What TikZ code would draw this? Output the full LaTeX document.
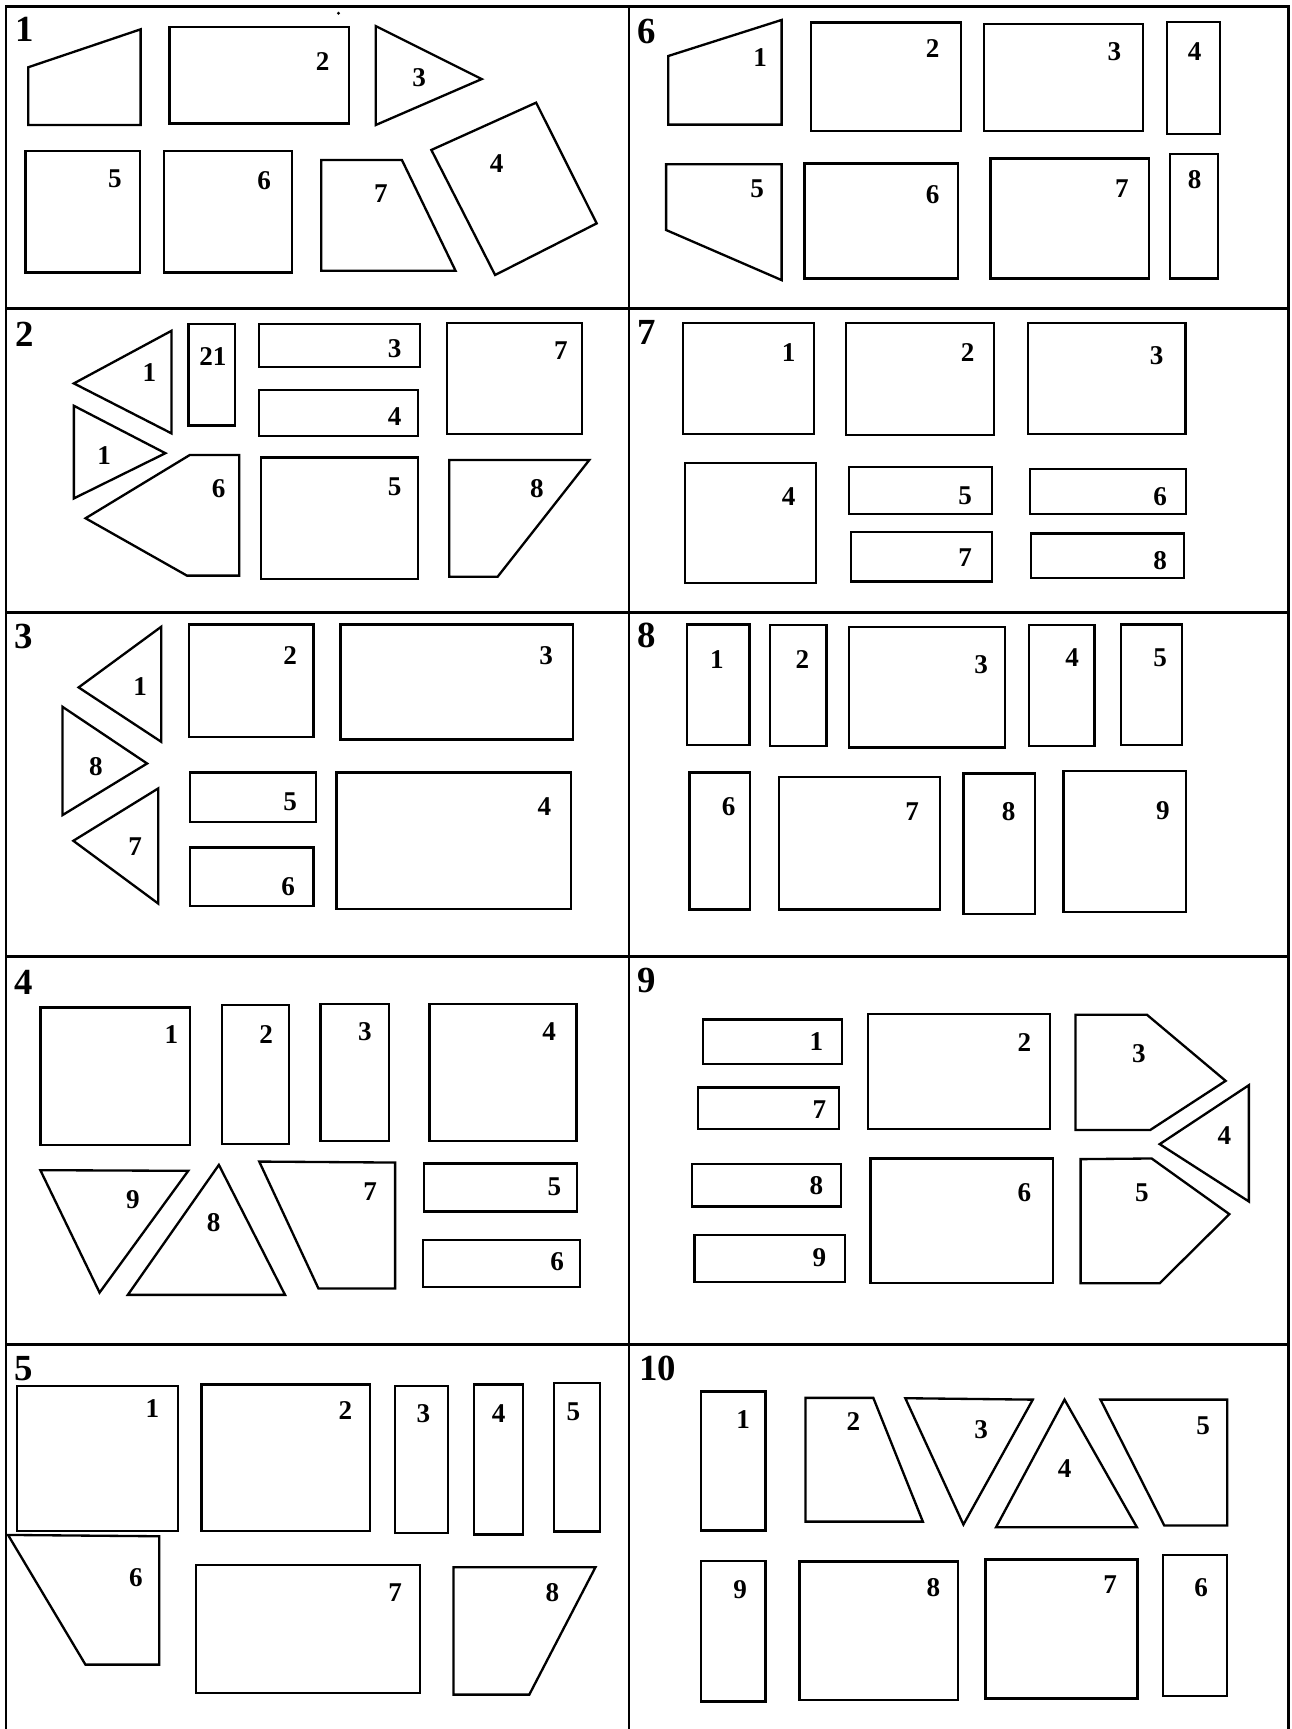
\documentclass[tikz,border=0pt]{standalone}
\usepackage{fontspec}
\setmainfont{Liberation Serif}
\tikzset{
  piece/.style={line width=1.2pt, line join=miter},
  frame/.style={line width=1.3pt},
  num/.style={font=\fontsize{14}{14}\selectfont\bfseries, inner sep=0pt},
  panelno/.style={font=\fontsize{19}{19}\selectfont\bfseries, inner sep=0pt},
}

\begin{document}
\begin{tikzpicture}[x=0.02cm, y=-0.02cm]
  \useasboundingbox (0,0) rectangle (1171,1568);
  \draw[frame] (5.5,1568) -- (5.5,6) -- (1168.5,6) -- (1168.5,1568);
  \draw[frame] (570.5,6) -- (570.5,1568);
  \foreach \y in {280,555.5,867.5,1219.5}
    \draw[frame] (5.5,\y) -- (1168.5,\y);

  \begin{scope}
    \node[panelno] (t1) at (22,27) {1};
    \fill (307,12) circle (1.5);
    \draw[piece] (25.6,61) -- (127.5,26.6) -- (127.5,113.4) -- (25.6,113.4) -- cycle;
    \draw[piece] (153.6,24.2) rectangle (316.2,111.9);
    \draw[piece] (340.7,23.6) -- (436.9,71.7) -- (340.7,113.4) -- cycle;
    \draw[piece] (486.2,93.1) -- (541.1,202.6) -- (449,249.4) -- (391.2,136) -- cycle;
    \draw[piece] (23,137) rectangle (127.2,247);
    \draw[piece] (148.8,137) rectangle (265,247);
    \draw[piece] (291.4,145.1) -- (364.5,145.1) -- (413.1,245.5) -- (291.4,245.5) -- cycle;
    \node[num] (a2) at (292.5,56) {2};
    \node[num] (a3) at (380.2,70) {3};
    \node[num] (a4) at (450.4,148) {4};
    \node[num] (a5) at (104.2,161.8) {5};
    \node[num] (a6) at (239.5,163.9) {6};
    \node[num] (a7) at (345.5,175.4) {7};
  \end{scope}

  \begin{scope}
    \node[panelno] (t6) at (586.9,28.7) {6};
    \draw[piece] (606,50.8) -- (708.8,18.1) -- (708.8,113) -- (606,113) -- cycle;
    \draw[piece] (735.6,20.3) rectangle (871.4,118.8);
    \draw[piece] (892.5,21.8) rectangle (1036.3,118.8);
    \draw[piece] (1058.2,20) rectangle (1106.5,121.8);
    \draw[piece] (604.1,149) -- (708.8,149) -- (708.8,254) -- (604.1,208.6) -- cycle;
    \draw[piece] (729.5,148.2) rectangle (868.7,252.5);
    \draw[piece] (898.3,143.6) rectangle (1042,252.5);
    \draw[piece] (1060.9,139.7) rectangle (1104.6,252.5);
    \node[num] (f1) at (689.3,52) {1};
    \node[num] (f2) at (845.7,43.8) {2};
    \node[num] (f3) at (1010.6,46.9) {3};
    \node[num] (f4) at (1083.5,46.9) {4};
    \node[num] (f5) at (686.6,171.4) {5};
    \node[num] (f6) at (845.7,176.3) {6};
    \node[num] (f7) at (1017.5,170.8) {7};
    \node[num] (f8) at (1083.5,163.3) {8};
  \end{scope}

  \begin{scope}
    \node[panelno] (t2) at (22,303) {2};
    \draw[piece] (67,347.7) -- (155.5,300) -- (155.5,393) -- cycle;
    \draw[piece] (67,368) -- (150,411) -- (67,452) -- cycle;
    \draw[piece] (171,293.9) rectangle (213.4,386);
    \draw[piece] (235,293.9) rectangle (381,333);
    \draw[piece] (235,353.7) rectangle (379,395.2);
    \draw[piece] (405.5,293) rectangle (527.8,393.6);
    \draw[piece] (172,412.7) -- (217,412.7) -- (217,522) -- (169.5,522) -- (77.6,470) -- cycle;
    \draw[piece] (236.8,414.8) rectangle (378.8,525);
    \draw[piece] (407.4,417.2) -- (534.4,417.2) -- (451.3,523) -- (407.4,523) -- cycle;
    \node[num] (b1) at (135.4,337.7) {1};
    \node[num] (b1x) at (94.4,413) {1};
    \node[num] (b21) at (193,323.5) {21};
    \node[num] (b3) at (358,316.6) {3};
    \node[num] (b4) at (358,378) {4};
    \node[num] (b7) at (508.7,318) {7};
    \node[num] (b6) at (198.4,443.5) {6};
    \node[num] (b5) at (358,441.4) {5};
    \node[num] (b8) at (486.8,443) {8};
  \end{scope}

  \begin{scope}
    \node[panelno] (t7) at (586.9,301.4) {7};
    \draw[piece] (619.5,293) rectangle (738.3,393.7);
    \draw[piece] (767.1,293) rectangle (901.3,394.5);
    \draw[piece] (932,293) rectangle (1075,393.7);
    \draw[piece] (621.4,420) rectangle (740.3,529);
    \draw[piece] (770.2,423.3) rectangle (899.4,466.2);
    \draw[piece] (934,425.4) rectangle (1075.8,466.2);
    \draw[piece] (771.7,482.5) rectangle (899.4,527.3);
    \draw[piece] (935,483.7) rectangle (1073.9,524.3);
    \node[num] (g1) at (715.3,319.6) {1};
    \node[num] (g2) at (877.5,319.6) {2};
    \node[num] (g3) at (1049,322.6) {3};
    \node[num] (g4) at (715.3,450.5) {4};
    \node[num] (g5) at (875.3,450) {5};
    \node[num] (g6) at (1052,450) {6};
    \node[num] (g7) at (875.3,506) {7};
    \node[num] (g8) at (1052,508) {8};
  \end{scope}

  \begin{scope}
    \node[panelno] (t3) at (21.9,577.5) {3};
    \draw[piece] (71.3,623.4) -- (146.2,568.4) -- (146.2,672.7) -- cycle;
    \draw[piece] (56.7,641) -- (133.4,692.4) -- (56.7,739.2) -- cycle;
    \draw[piece] (143.5,715) -- (66.5,762.5) -- (143.5,819.4) -- cycle;
    \draw[piece] (171.1,566.3) rectangle (284.4,668.2);
    \draw[piece] (308.9,566.3) rectangle (519.9,670.6);
    \draw[piece] (172.6,700.5) rectangle (286.3,745.3);
    \draw[piece] (172.6,768.5) rectangle (284.4,821.5);
    \draw[piece] (305.3,700.5) rectangle (518,824.2);
    \node[num] (c1) at (127.2,622.8) {1};
    \node[num] (c8) at (87,695.4) {8};
    \node[num] (c7) at (122.5,768) {7};
    \node[num] (c2) at (263.2,594.1) {2};
    \node[num] (c3) at (495.4,595) {3};
    \node[num] (c5) at (263.2,727) {5};
    \node[num] (c6) at (261.4,804.2) {6};
    \node[num] (c4) at (493.6,731.7) {4};
  \end{scope}

  \begin{scope}
    \node[panelno] (t8) at (586.9,575.9) {8};
    \draw[piece] (623.3,566.3) rectangle (679.7,675.7);
    \draw[piece] (698.1,566.9) rectangle (749.5,676.6);
    \draw[piece] (769.8,568.4) rectangle (911.7,677.8);
    \draw[piece] (933.2,566.9) rectangle (992.6,676.6);
    \draw[piece] (1016.8,566.3) rectangle (1072,675.7);
    \draw[piece] (625.2,700.5) rectangle (680.1,824.8);
    \draw[piece] (706.5,704.4) rectangle (852.2,824.8);
    \draw[piece] (873.7,701.4) rectangle (938.9,829);
    \draw[piece] (964.6,699.3) rectangle (1075.8,826.9);
    \node[num] (h1) at (650.1,598) {1};
    \node[num] (h2) at (727.6,598) {2};
    \node[num] (h3) at (889.8,603.2) {3};
    \node[num] (h4) at (972.3,596.2) {4};
    \node[num] (h5) at (1052,596.2) {5};
    \node[num] (h6) at (660.9,731.7) {6};
    \node[num] (h7) at (827.3,735.6) {7};
    \node[num] (h8) at (914.8,736.2) {8};
    \node[num] (h9) at (1054.7,735.6) {9};
  \end{scope}

  \begin{scope}
    \node[panelno] (t4) at (21.9,891) {4};
    \draw[piece] (36.6,913.7) rectangle (172.6,1038.3);
    \draw[piece] (201.1,911.6) rectangle (262.1,1037.6);
    \draw[piece] (290.7,910.7) rectangle (352.8,1034.6);
    \draw[piece] (389.4,910.7) rectangle (522.8,1034.6);
    \draw[piece] (36.6,1061.2) -- (170.7,1061.8) -- (90.3,1172.2) -- cycle;
    \draw[piece] (198.5,1056.4) -- (258.5,1174.3) -- (115.9,1174.3) -- cycle;
    \draw[piece] (235.1,1053.4) -- (358.3,1054.3) -- (358.3,1168.5) -- (288.8,1168.5) -- cycle;
    \draw[piece] (384.6,1055.2) rectangle (523.5,1098.7);
    \draw[piece] (383.9,1124.7) rectangle (525.7,1167.1);
    \node[num] (d1) at (155.4,937.9) {1};
    \node[num] (d2) at (241.3,937.9) {2};
    \node[num] (d3) at (330.9,935.4) {3};
    \node[num] (d4) at (498,935.4) {4};
    \node[num] (d9) at (120.6,1087.5) {9};
    \node[num] (d8) at (193.8,1108.6) {8};
    \node[num] (d7) at (335.6,1081) {7};
    \node[num] (d5) at (502.7,1076.5) {5};
    \node[num] (d6) at (505.3,1144.1) {6};
  \end{scope}

  \begin{scope}
    \node[panelno] (t9) at (586.9,889.5) {9};
    \draw[piece] (637.5,924.5) rectangle (763.3,965.1);
    \draw[piece] (633.3,986.2) rectangle (761,1024);
    \draw[piece] (627.5,1055.8) rectangle (762.5,1094.2);
    \draw[piece] (629.8,1120.2) rectangle (766.3,1162.5);
    \draw[piece] (787,919.7) rectangle (952.3,1024);
    \draw[piece] (789.4,1050.6) rectangle (955,1163.7);
    \draw[piece] (975.4,920.3) -- (1040.2,920.3) -- (1111.5,980.2) -- (1043.2,1024.7) -- (975.4,1024.7) -- cycle;
    \draw[piece] (1051.7,1037.6) -- (1132.6,984.1) -- (1132.6,1089.6) -- cycle;
    \draw[piece] (980,1051.2) -- (1044.4,1050.6) -- (1114.9,1101.1) -- (1051.7,1163.7) -- (980,1163.7) -- cycle;
    \node[num] (k1) at (740.3,944.5) {1};
    \node[num] (k7) at (743,1005.9) {7};
    \node[num] (k8) at (740.3,1075.5) {8};
    \node[num] (k9) at (743,1140.5) {9};
    \node[num] (k2) at (928.9,945.4) {2};
    \node[num] (k6) at (928.9,1081.5) {6};
    \node[num] (k3) at (1032.9,955.1) {3};
    \node[num] (k4) at (1110.3,1030.1) {4};
    \node[num] (k5) at (1035.6,1081.5) {5};
  \end{scope}

  \begin{scope}
    \node[panelno] (t5) at (21.9,1241.4) {5};
    \draw[piece] (15.4,1257.1) rectangle (161.6,1388.7);
    \draw[piece] (182.8,1255.6) rectangle (335.3,1388.7);
    \draw[piece] (358.3,1257.1) rectangle (406.2,1390.5);
    \draw[piece] (429.6,1255.6) rectangle (474.2,1391.7);
    \draw[piece] (502.7,1254.1) rectangle (544,1389);
    \draw[piece] (7.3,1392) -- (144.4,1393.2) -- (144.4,1509.6) -- (77.5,1509.6) -- cycle;
    \draw[piece] (178,1419.2) rectangle (381,1535.6);
    \draw[piece] (411.3,1421.3) -- (540,1421.3) -- (480,1536.8) -- (411.3,1536.8) -- cycle;
    \node[num] (e1) at (138.2,1277.7) {1};
    \node[num] (e2) at (313.3,1279.2) {2};
    \node[num] (e3) at (383.9,1282.2) {3};
    \node[num] (e4) at (452.2,1282.2) {4};
    \node[num] (e5) at (519.9,1280.1) {5};
    \node[num] (e6) at (123.2,1430.4) {6};
    \node[num] (e7) at (358.3,1444.6) {7};
    \node[num] (e8) at (500.9,1444.6) {8};
  \end{scope}

  \begin{scope}
    \node[panelno] (t10) at (596.4,1241.4) {10};
    \draw[piece] (635.6,1262) rectangle (694.2,1388);
    \draw[piece] (730.5,1267.7) -- (792,1267.7) -- (836.9,1379.9) -- (730.5,1379.9) -- cycle;
    \draw[piece] (821,1268) -- (936.6,1269.3) -- (873.7,1382.6) -- cycle;
    \draw[piece] (965.4,1269.3) -- (1031,1385) -- (903.3,1385) -- cycle;
    \draw[piece] (998,1269.3) -- (1113,1269.3) -- (1113,1383.5) -- (1055.9,1383.5) -- cycle;
    \draw[piece] (635.6,1415.9) rectangle (694.2,1543.1);
    \draw[piece] (724.9,1416.2) rectangle (868.7,1541.4);
    \draw[piece] (893.7,1414.4) rectangle (1031.7,1540.2);
    \draw[piece] (1054.7,1410.2) rectangle (1113,1537.8);
    \node[num] (m1) at (673.9,1287.3) {1};
    \node[num] (m2) at (774,1289) {2};
    \node[num] (m3) at (889.8,1296.4) {3};
    \node[num] (m4) at (965.4,1331.5) {4};
    \node[num] (m5) at (1091.2,1292.7) {5};
    \node[num] (m9) at (671.2,1441.5) {9};
    \node[num] (m8) at (846.5,1439.4) {8};
    \node[num] (m7) at (1006.8,1437.3) {7};
    \node[num] (m6) at (1089.3,1439.4) {6};
  \end{scope}
\end{tikzpicture}
\end{document}
